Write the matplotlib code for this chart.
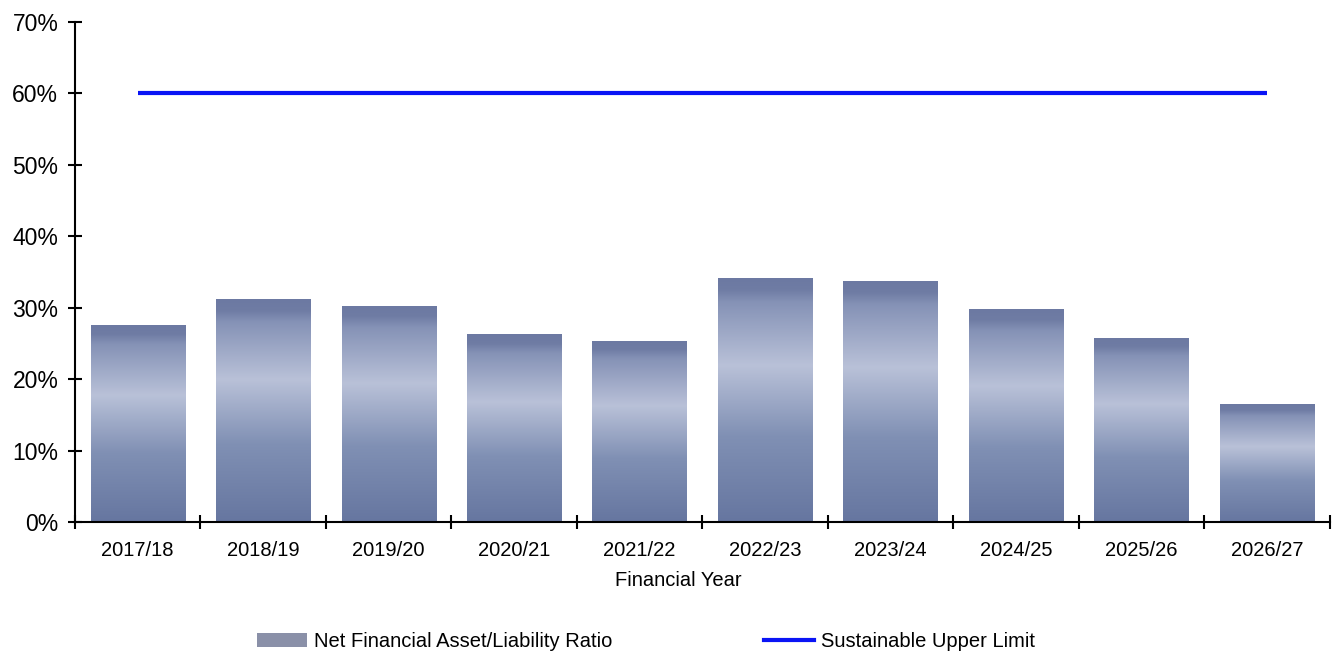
import numpy as np
import matplotlib
matplotlib.use("Agg")
import matplotlib.pyplot as plt
from matplotlib.colors import LinearSegmentedColormap
from matplotlib.patches import Patch
from matplotlib.lines import Line2D
from matplotlib.ticker import FixedLocator, NullFormatter

plt.rcParams['font.family'] = ['Liberation Sans', 'DejaVu Sans']

years = ['2017/18', '2018/19', '2019/20', '2020/21', '2021/22',
         '2022/23', '2023/24', '2024/25', '2025/26', '2026/27']
ratio = [27.6, 31.2, 30.3, 26.3, 25.4, 34.2, 33.8, 29.8, 25.8, 16.5]
upper_limit = [60] * len(years)

fig = plt.figure(figsize=(13.43, 6.53), dpi=100)
ax = fig.add_axes([0.0558, 0.2006, 0.9342, 0.7657])

x = np.arange(len(years))
bars = ax.bar(x, ratio, width=0.75, color='none', edgecolor='none', zorder=2)

# vertical gradient: darker at top and bottom, lighter in the middle
cmap = LinearSegmentedColormap.from_list('barfade', [
    (0.0, '#6676a0'), (0.35, '#8090b4'), (0.64, '#b9c1d8'),
    (0.9, '#8592b6'), (0.95, '#6f7ca4'), (1.0, '#6c79a2')])
grad = np.linspace(0, 1, 256).reshape(-1, 1)
for b in bars:
    x0, y0 = b.get_x(), b.get_y()
    w, h = b.get_width(), b.get_height()
    im = ax.imshow(grad, cmap=cmap, aspect='auto', origin='lower',
                   extent=[x0, x0 + w, y0, y0 + h], zorder=2,
                   interpolation='bicubic')
    im.set_clip_path(b)

ax.plot(x, upper_limit, color='#0a14f5', lw=3, zorder=3, solid_capstyle='butt')

ax.set_xlim(-0.5, len(years) - 0.5)
ax.set_ylim(0, 70)
ax.set_yticks(range(0, 71, 10))
ax.set_yticklabels([f'{v}%' for v in range(0, 71, 10)], fontsize=16.5)

ax.xaxis.set_major_locator(FixedLocator(np.arange(-0.5, len(years), 1.0)))
ax.xaxis.set_major_formatter(NullFormatter())
ax.xaxis.set_minor_locator(FixedLocator(x))
ax.set_xticklabels(years, minor=True, fontsize=14.5)
ax.tick_params(axis='x', which='minor', length=0, pad=14)
ax.tick_params(axis='x', which='major', direction='inout', length=10, width=1.5)
ax.tick_params(axis='y', direction='inout', length=10, width=1.5, pad=7)

for s in ['top', 'right']:
    ax.spines[s].set_visible(False)
for s in ['left', 'bottom']:
    ax.spines[s].set_linewidth(1.5)

ax.set_xlabel('Financial Year', fontsize=14.5)
ax.xaxis.set_label_coords(0.481, -0.098)

handles = [Patch(facecolor='#8a90a8', edgecolor='none'),
           Line2D([0], [0], color='#0a14f5', lw=3)]
fig.legend(handles, ['Net Financial Asset/Liability Ratio', 'Sustainable Upper Limit'],
           loc='center', bbox_to_anchor=(0.481, 0.018), ncol=2, frameon=False,
           fontsize=14.5, columnspacing=7.5, handlelength=2.5, handletextpad=0.35)

fig.savefig('out.png', dpi=100)
